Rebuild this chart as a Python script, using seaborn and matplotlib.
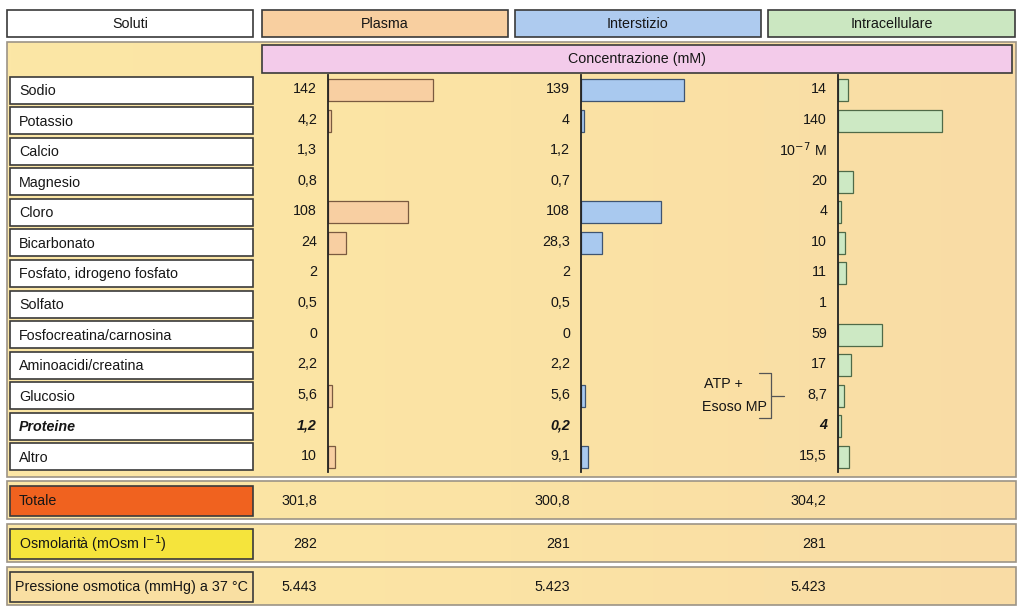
import numpy as np
import matplotlib
matplotlib.use('Agg')
import matplotlib.pyplot as plt
import matplotlib.transforms as mtransforms
from matplotlib.patches import Rectangle
from matplotlib.colors import LinearSegmentedColormap
import seaborn as sns

sns.set_style('white')
plt.rcParams['font.family'] = ['Liberation Sans', 'DejaVu Sans']
plt.rcParams['text.color'] = '#161616'
FS = 10.3

# dati (mM)
soluti = ['Sodio', 'Potassio', 'Calcio', 'Magnesio', 'Cloro', 'Bicarbonato',
          'Fosfato, idrogeno fosfato', 'Solfato', 'Fosfocreatina/carnosina',
          'Aminoacidi/creatina', 'Glucosio', 'Proteine', 'Altro']
plasma = [142, 4.2, 1.3, 0.8, 108, 24, 2, 0.5, 0, 2.2, 5.6, 1.2, 10]
interstizio = [139, 4, 1.2, 0.7, 108, 28.3, 2, 0.5, 0, 2.2, 5.6, 0.2, 9.1]
intracellulare = [14, 140, 1e-4, 20, 4, 10, 11, 1, 59, 17, 8.7, 4, 15.5]
compartimenti = ['Plasma', 'Interstizio', 'Intracellulare']
totale = [301.8, 300.8, 304.2]
osmolarita = [282, 281, 281]
pressione = [5443, 5423, 5423]

col_face = ['#f8cfa2', '#a9c9ef', '#cde9c4']
col_edge = ['#7a5a40', '#3f5470', '#4f6a48']


def fmt(v):
    return f'{v:g}'.replace('.', ',')


def fmt_k(v):
    return f'{v:,}'.replace(',', '.')


W, H = 1023, 611
fig = plt.figure(figsize=(W / 100, H / 100), dpi=100)
bg = fig.add_axes([0, 0, 1, 1])
bg.set_xlim(0, W)
bg.set_ylim(H, 0)
bg.axis('off')

panel_cmap = LinearSegmentedColormap.from_list('p', ['#fce7a6', '#fbe3a4', '#f9dca6'])
grad = np.linspace(0, 1, 256).reshape(1, -1)


def panel(y0, y1):
    bg.imshow(grad, cmap=panel_cmap, extent=(7, 1016, y1, y0), aspect='auto', zorder=0)
    bg.add_patch(Rectangle((7, y0), 1009, y1 - y0, fill=False, ec='#9c9486', lw=1.2, zorder=1))


# intestazioni
heads = [('Soluti', 7, 253, 'white'), ('Plasma', 262, 508, '#f8cfa0'),
         ('Interstizio', 515, 761, '#aecbef'), ('Intracellulare', 768, 1015, '#cbe7c1')]
for txt, x0, x1, c in heads:
    bg.add_patch(Rectangle((x0, 10), x1 - x0, 27, fc=c, ec='#3a3a3a', lw=1.2, zorder=2))
    bg.text((x0 + x1) / 2, 24, txt, ha='center', va='center', fontsize=FS, zorder=3)

# pannello principale
panel(42, 477)
bg.add_patch(Rectangle((262, 45), 750, 28, fc='#f3cbea', ec='#3a3a3a', lw=1.2, zorder=2))
bg.text(637, 59, 'Concentrazione (mM)', ha='center', va='center', fontsize=FS, zorder=3)

row0, step = 90, 30.58
for i, s in enumerate(soluti):
    yc = row0 + i * step
    bg.add_patch(Rectangle((10, yc - 13.5), 243, 27, fc='white', ec='#3a3a3a', lw=1.2, zorder=2))
    bold = s == 'Proteine'
    bg.text(19, yc + 1, s, ha='left', va='center', fontsize=FS, zorder=3,
            fontweight='bold' if bold else 'normal', fontstyle='italic' if bold else 'normal')

# pannelli in basso
bottom = [('Totale', totale, 481, 519, '#f0621f', fmt, 19),
          ('Osmolarità (mOsm l$^{-1}$)', osmolarita, 524, 562, '#f5e43c', fmt, 19),
          ('Pressione osmotica (mmHg) a 37 °C', pressione, 567, 605, '#f9dfa2', fmt_k, 15)]
for lab, vals, y0, y1, c, f, xl in bottom:
    panel(y0, y1)
    bg.add_patch(Rectangle((10, y0 + 5), 243, y1 - y0 - 8, fc=c, ec='#3a3a3a', lw=1.2, zorder=2))
    yc = (y0 + y1) / 2 + 1
    bg.text(xl, yc, lab, ha='left', va='center', fontsize=FS, zorder=3)
    for xr, v in zip([317, 570, 826], vals):
        bg.text(xr, yc, f(v), ha='right', va='center', fontsize=FS, zorder=3)

# parentesi ATP + Esoso MP
bg.plot([759, 771, 771, 759], [373, 373, 418, 418], color='#555555', lw=0.9, zorder=3)
bg.plot([771, 784], [395.5, 395.5], color='#555555', lw=0.9, zorder=3)
bg.text(704, 384, 'ATP +', ha='left', va='center', fontsize=FS, zorder=3)
bg.text(702, 407, 'Esoso MP', ha='left', va='center', fontsize=FS, zorder=3)

# barre
k = 0.74  # px per mM
ytop, ybot = row0 - step / 2, row0 + 12 * step + step / 2
serie = [plasma, interstizio, intracellulare]
for j, (x0, vals) in enumerate(zip([328, 581, 838], serie)):
    ax = fig.add_axes([x0 / W, 1 - ybot / H, 180 / W, (ybot - ytop) / H])
    vals = np.array(vals, dtype=float)
    drawn = np.where(vals >= 4, vals, np.nan)
    sns.barplot(x=drawn, y=soluti, orient='h', ax=ax, color=col_face[j], saturation=1,
                width=0.72, edgecolor=col_edge[j], linewidth=0.9)
    ax.set_xlim(0, 180 / k)
    ax.set_ylim(12.5, -0.5)
    ax.set_facecolor('none')
    ax.set_xticks([])
    ax.set_yticks([])
    ax.set_xlabel('')
    ax.set_ylabel('')
    for sp in ['top', 'right', 'bottom']:
        ax.spines[sp].set_visible(False)
    ax.spines['left'].set_color('#222222')
    ax.spines['left'].set_linewidth(1.3)
    tr = mtransforms.offset_copy(ax.transData, fig=fig, x=-11, y=1, units='dots')
    for i, v in enumerate(vals):
        lab = fmt(v)
        if j == 2 and soluti[i] == 'Calcio':
            lab = '10$^{-7}$ M'
        bold = soluti[i] == 'Proteine'
        ax.text(0, i, lab, transform=tr, ha='right', va='center', fontsize=FS,
                fontweight='bold' if bold else 'normal',
                fontstyle='italic' if bold else 'normal', clip_on=False)

fig.savefig('out.png', dpi=100, facecolor='white')
